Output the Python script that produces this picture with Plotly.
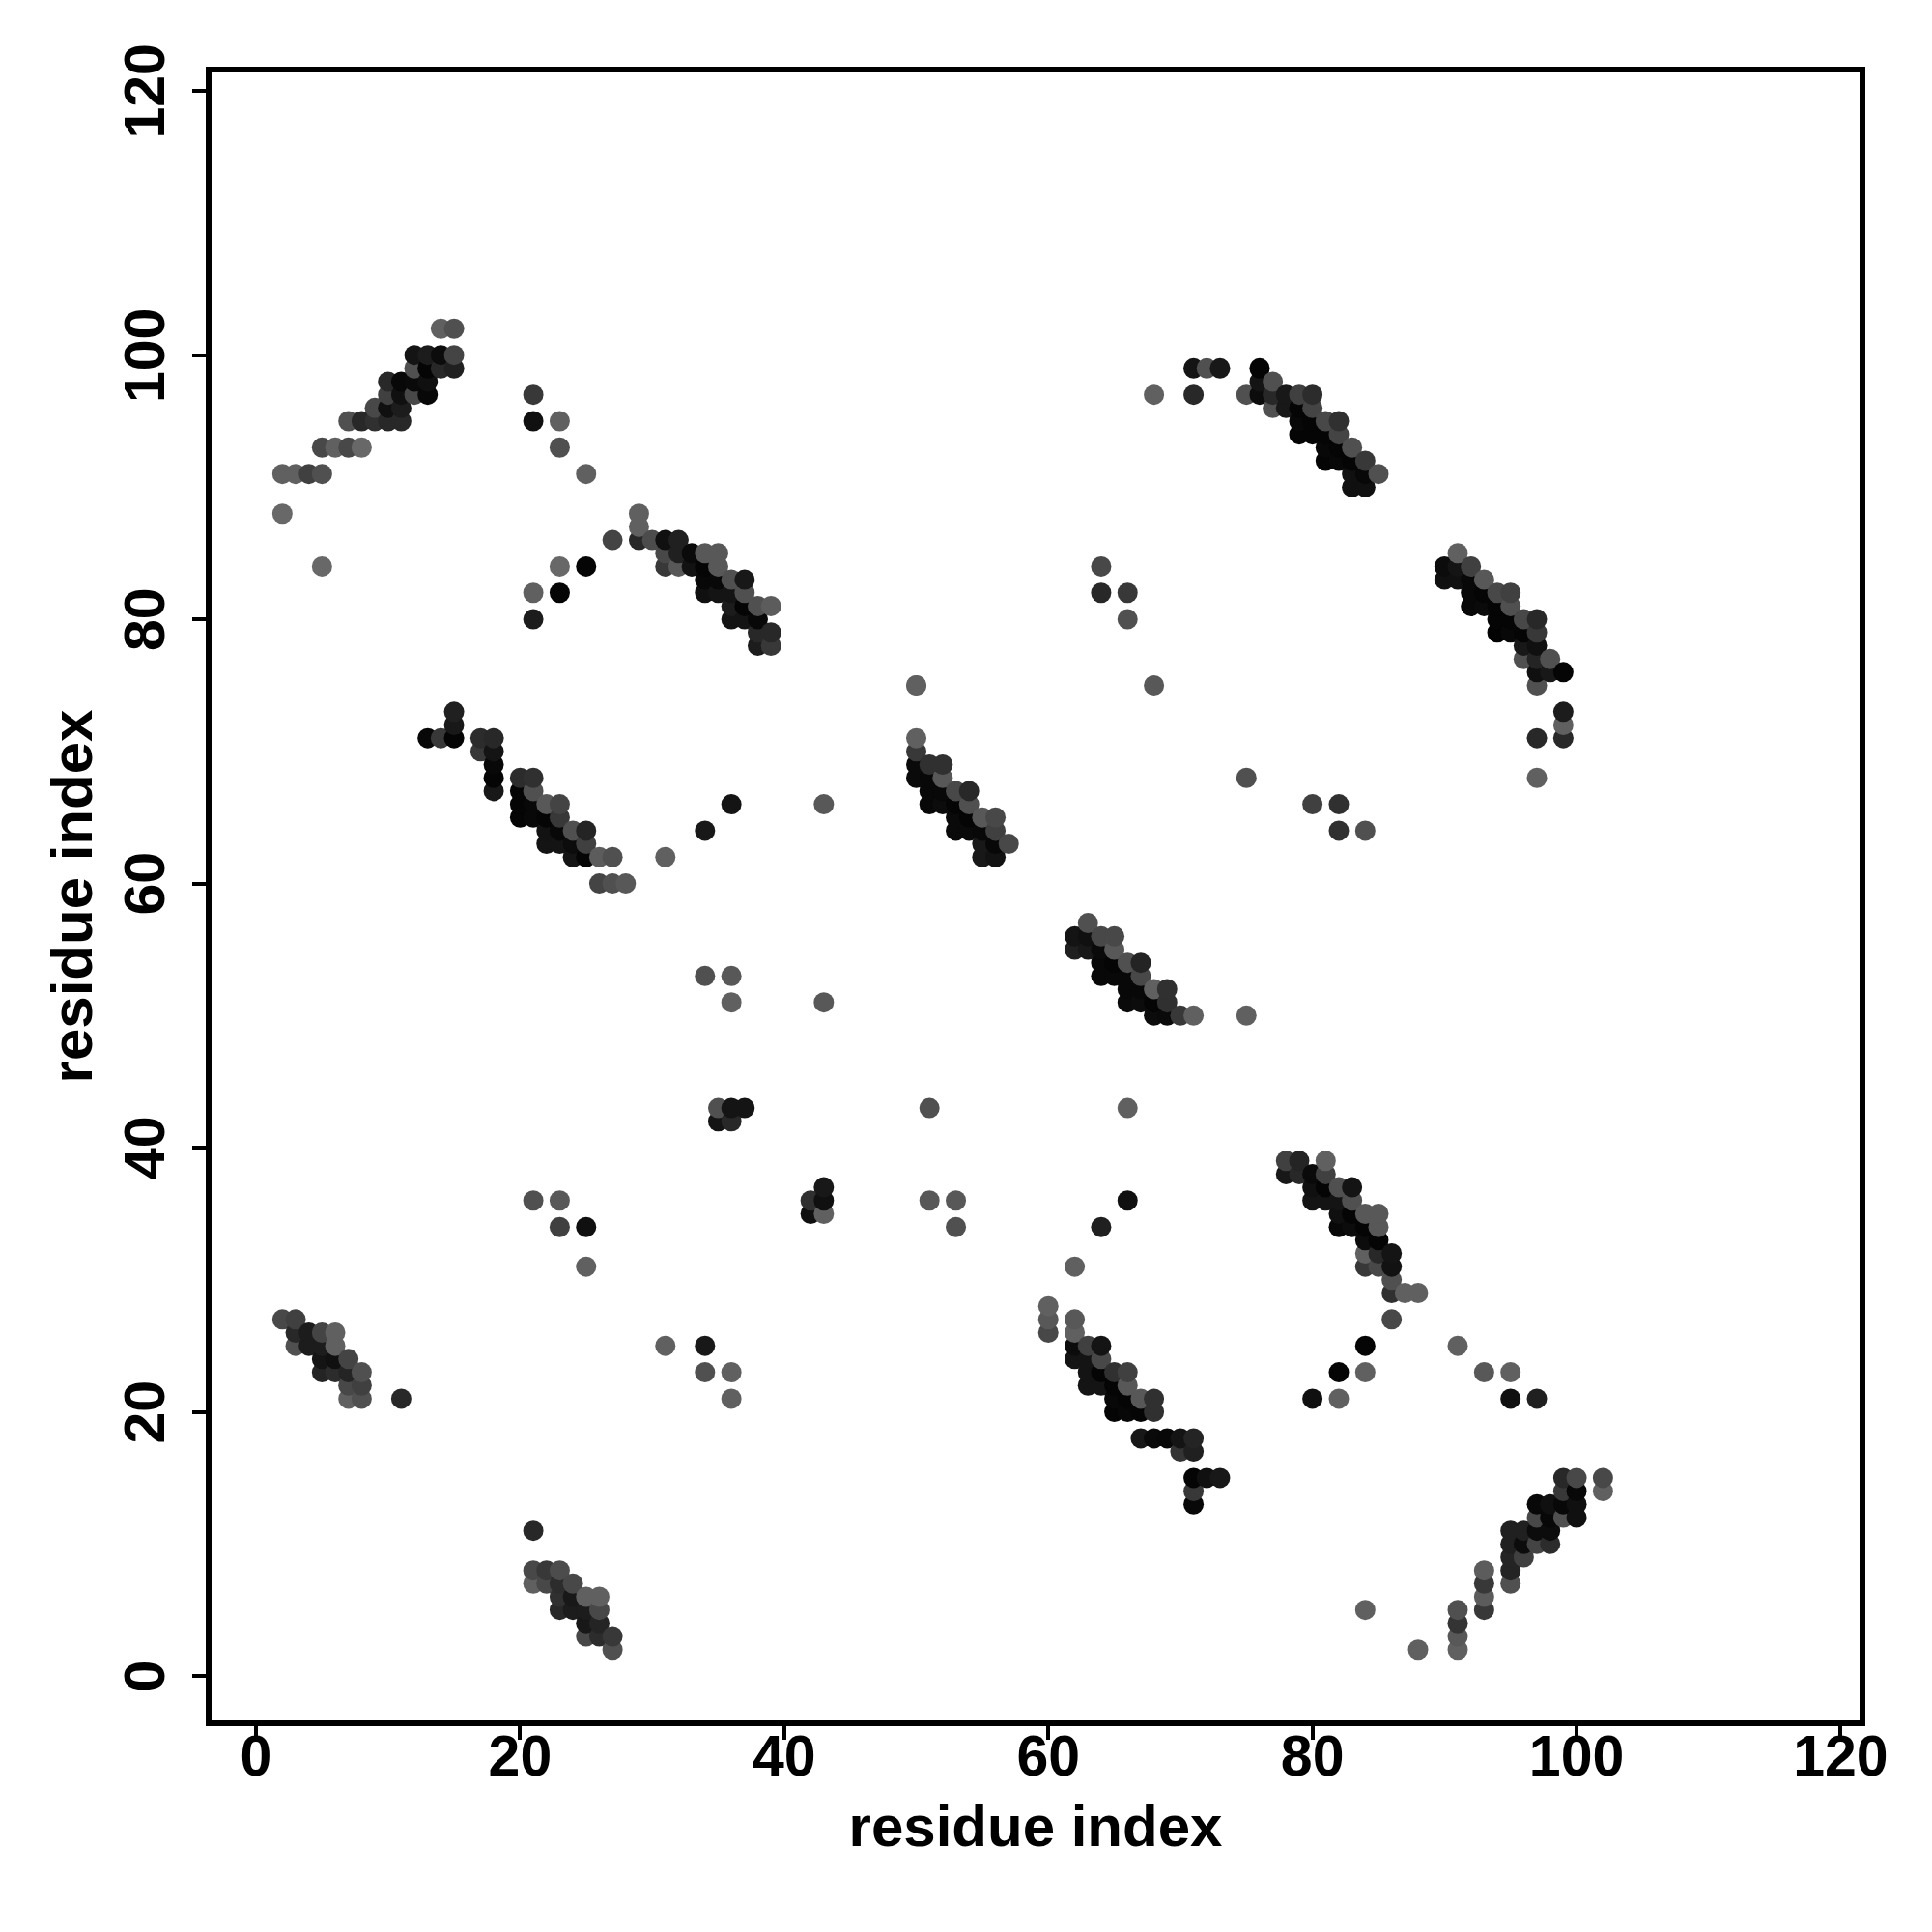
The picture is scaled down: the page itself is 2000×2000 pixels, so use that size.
import plotly.graph_objects as go

# residue i, residue j, and contact darkness shade (0 = black, 255 = white), listed row by row
residue_i = [
 14,15, 12,13,14,15, 12,13,14,15, 10,11,12,13, 10,11,12,13, 9,10,11, 7,8,9,10,11, 5,6,7,8, 2,3,4,5, 2, 5,
 21, 21,23, 23, 25, 27, 23,25, 21,23, 21,
 29, 29, 29,30,31,32, 31,32,33,34,35, 31,32,33,34,35, 34,35,36,37, 34,35,36,37, 36,37,38,39, 36,37,38, 38,39, 38,39,
 15, 15, 13,14,15,17,18, 17,18, 18, 18,20,21, 18,20,21, 20,21,22,23, 20,21,22,23, 22,23,24,25, 22,23,24,25, 24,25,26,27,31, 26,27,28,
 34, 36, 43, 34,36, 36,43, 35,36,37, 35,36,
 21,23, 23,25, 25, 42,43, 42,43, 43, 51,66, 51,53, 53, 64, 66, 62, 31, 34, 34,36, 36, 50, 64, 64,66, 66, 68, 75, 80,82, 82,84,
 50, 50, 50,51,52, 50,51,52, 51,52,53,54, 51,52,53,54, 53,54,55,56, 53,54,55,56, 55,56,57, 55,56, 50,
 63, 62,63,64,65, 62,63,64,65, 64,65,66,67, 64,65,66,67, 66,67,68,69, 66,67,68,69, 68,69,70,71,75,
 76, 76,77, 75,76,77,78,79,80, 77,78,79,80, 79,80,81,82, 79,80,81,82, 81,82,83, 81,82,83,84, 83,84,85, 83,84, 71,72,73, 68,71,
 91, 90,91,92, 90,91,92,93, 92,93,94,95, 92,93,94,95, 94,95,96,97, 94,95,96,97, 96,97, 96,97,98, 97,98,99, 97, 99, 99, 97,99, 97,
 78,79,81, 78,79,80,81, 80,81,82,83, 80,81,82,83, 82,83,84,85, 82,83,84,85, 84,85, 84,85,86, 84,85,86, 86, 86,87,88, 86, 84, 82,84, 80,82,91,93,95,95,97,
 60, 60,62, 60,62, 62,63,64, 62,63,64, 63,64,65,66, 63,64,65,66, 65,66,67,68, 65,66,67,68, 67,68,69,70,71, 70,71, 71,72,73, 71, 71,
 99,100,102, 99,100,102, 97,98,99,100, 97,98,99,100, 95,96,97,98, 95,96,97,98, 95,96, 93,95, 93,95, 93, 91,93, 91, 91, 88,91, 84,
 2,3, 3,4,5,6, 3,4,5,6, 5,6,7, 5,6,7,8, 7,8, 7,8,11,
 21, 21,22,23, 21,22,23,24, 23,24,25,26, 23,24,25,26, 25,26, 25,26,27, 27,
]
residue_j = [
 102,102, 100,100,100,100, 99,99,99,99, 98,98,98,98, 97,97,97,97, 96,96,96, 95,95,95,95,95, 93,93,93,93, 91,91,91,91, 88, 84,
 97, 95,95, 93, 91, 86, 84,84, 82,82, 80,
 88, 87, 86,86,86,86, 85,85,85,85,85, 84,84,84,84,84, 83,83,83,83, 82,82,82,82, 81,81,81,81, 80,80,80, 79,79, 78,78,
 73, 72, 71,71,71,71,71, 70,70, 69, 68,68,68, 67,67,67, 66,66,66,66, 65,65,65,65, 64,64,64,64, 63,63,63,63, 62,62,62,62,62, 60,60,60,
 64, 66, 66, 53,53, 51,51, 43,43,43, 42,42,
 36,36, 34,34, 31, 36,37, 35,36, 35, 43,43, 36,36, 34, 34, 36, 31, 25, 25, 23,23, 21, 75, 84, 82,82, 80, 75, 68, 66,66, 64,64,
 71, 70, 69,69,69, 68,68,68, 67,67,67,67, 66,66,66,66, 65,65,65,65, 64,64,64,64, 63,63,63, 62,62, 75,
 57, 56,56,56,56, 55,55,55,55, 54,54,54,54, 53,53,53,53, 52,52,52,52, 51,51,51,51, 50,50,50,50,50,
 99, 98,98, 97,97,97,97,97,97, 96,96,96,96, 95,95,95,95, 94,94,94,94, 93,93,93, 92,92,92,92, 91,91,91, 90,90, 99,99,99, 97,97,
 85, 84,84,84, 83,83,83,83, 82,82,82,82, 81,81,81,81, 80,80,80,80, 79,79,79,79, 78,78, 77,77,77, 76,76,76, 75, 73, 72, 71,71, 68,
 39,39,39, 38,38,38,38, 37,37,37,37, 36,36,36,36, 35,35,35,35, 34,34,34,34, 33,33, 32,32,32, 31,31,31, 30, 29,29,29, 27, 25, 23,23, 21,21,25,23,23,21,21,
 28, 27,27, 26,26, 25,25,25, 24,24,24, 23,23,23,23, 22,22,22,22, 21,21,21,21, 20,20,20,20, 18,18,18,18,18, 17,17, 15,15,15, 14, 13,
 15,15,15, 14,14,14, 13,13,13,13, 12,12,12,12, 11,11,11,11, 10,10,10,10, 9,9, 8,8, 7,7, 6, 5,5, 4, 3, 2,2, 5,
 27,27, 26,26,26,26, 25,25,25,25, 24,24,24, 23,23,23,23, 22,22, 21,21,21,
 11, 8,8,8, 7,7,7,7, 6,6,6,6, 5,5,5,5, 4,4, 3,3,3, 2,
]
shade = [
 0x60,0x50, 0x14,0x1c,0x0c,0x44, 0x50,0x05,0x28,0x20, 0x28,0x08,0x0a,0x10, 0x40,0x10,0x48,0x08, 0x48,0x10,0x1c, 0x50,0x28,0x30,0x28,0x28, 0x48,0x60,0x48,0x68, 0x60,0x60,0x40,0x50, 0x68, 0x68,
 0x38, 0x10,0x60, 0x50, 0x60, 0x44, 0x68,0x05, 0x60,0x05, 0x1c,
 0x60, 0x60, 0x28,0x4c,0x10,0x20, 0x48,0x20,0x0a,0x58,0x58, 0x38,0x58,0x12,0x05,0x58, 0x08,0x08,0x50,0x18, 0x10,0x14,0x14,0x50, 0x1c,0x05,0x50,0x5c, 0x14,0x14,0x08, 0x28,0x28, 0x1c,0x38,
 0x20, 0x18, 0x08,0x38,0x05,0x2c,0x28, 0x38,0x14, 0x08, 0x05,0x2c,0x30, 0x18,0x05,0x50, 0x05,0x08,0x58,0x44, 0x05,0x08,0x05,0x38, 0x12,0x08,0x50,0x24, 0x14,0x14,0x0c,0x40, 0x14,0x05,0x5c,0x50,0x60, 0x44,0x50,0x58,
 0x18, 0x14, 0x58, 0x50,0x58, 0x60,0x58, 0x50,0x14,0x14, 0x14,0x28,
 0x50,0x58, 0x40,0x10, 0x60, 0x30,0x18, 0x10,0x10, 0x60, 0x50,0x60, 0x58,0x58, 0x50, 0x20, 0x10, 0x60, 0x60, 0x18, 0x50,0x60, 0x60, 0x60, 0x48, 0x28,0x38, 0x50, 0x58, 0x50, 0x40,0x30, 0x30,0x50,
 0x60, 0x38, 0x0a,0x30,0x30, 0x0a,0x08,0x58, 0x08,0x08,0x48,0x28, 0x08,0x0c,0x05,0x50, 0x0a,0x05,0x58,0x48, 0x0a,0x0a,0x08,0x40, 0x18,0x08,0x48, 0x18,0x12, 0x60,
 0x50, 0x14,0x10,0x48,0x48, 0x20,0x18,0x0a,0x58, 0x08,0x05,0x50,0x24, 0x08,0x08,0x08,0x48, 0x08,0x08,0x60,0x30, 0x0a,0x0c,0x05,0x30, 0x0c,0x0a,0x38,0x60,0x60,
 0x05, 0x14,0x50, 0x50,0x0c,0x28,0x18,0x40,0x2c, 0x50,0x18,0x05,0x44, 0x08,0x05,0x48,0x30, 0x05,0x05,0x05,0x44, 0x08,0x05,0x50, 0x05,0x08,0x05,0x38, 0x10,0x08,0x50, 0x10,0x10, 0x14,0x50,0x18, 0x60,0x28,
 0x60, 0x0c,0x14,0x40, 0x10,0x10,0x08,0x58, 0x08,0x05,0x48,0x40, 0x08,0x0a,0x05,0x50, 0x05,0x05,0x48,0x28, 0x03,0x08,0x05,0x38, 0x18,0x10, 0x50,0x24,0x50, 0x10,0x18,0x05, 0x50, 0x1c, 0x60, 0x28,0x28, 0x60,
 0x40,0x24,0x60, 0x18,0x28,0x0a,0x40, 0x10,0x05,0x50,0x14, 0x14,0x14,0x14,0x50, 0x10,0x05,0x58,0x58, 0x08,0x0c,0x05,0x58, 0x0c,0x05, 0x60,0x28,0x14, 0x38,0x48,0x12, 0x50, 0x30,0x60,0x60, 0x48, 0x05, 0x05,0x60, 0x10,0x60,0x60,0x58,0x60,0x10,0x20,
 0x60, 0x58,0x58, 0x48,0x60, 0x0c,0x40,0x14, 0x14,0x14,0x48, 0x14,0x05,0x30,0x40, 0x14,0x14,0x05,0x58, 0x08,0x05,0x58,0x30, 0x05,0x08,0x05,0x30, 0x18,0x0a,0x08,0x14,0x24, 0x34,0x20, 0x05,0x10,0x18, 0x38, 0x08,
 0x28,0x48,0x48, 0x38,0x08,0x60, 0x08,0x10,0x08,0x10, 0x48,0x08,0x50,0x10, 0x20,0x20,0x0c,0x0c, 0x20,0x0c,0x44,0x2c, 0x24,0x40, 0x5c,0x24, 0x38,0x50, 0x5c, 0x50,0x38, 0x34, 0x58, 0x60,0x60, 0x60,
 0x48,0x40, 0x28,0x1c,0x44,0x60, 0x50,0x1c,0x1c,0x60, 0x14,0x10,0x44, 0x24,0x2c,0x24,0x50, 0x48,0x40, 0x60,0x50,0x28,
 0x28, 0x48,0x38,0x4c, 0x60,0x48,0x2c,0x48, 0x30,0x18,0x60,0x60, 0x28,0x1c,0x1c,0x48, 0x18,0x24, 0x48,0x2c,0x38, 0x50,
]
tick_values = [0, 20, 40, 60, 80, 100, 120]
axis_label = "residue index"

assert len(residue_i) == len(residue_j) == len(shade)

order = sorted(range(len(shade)), key=lambda k: (residue_i[k], residue_j[k]))

fig = go.Figure(go.Scatter(
    x=[residue_i[k] for k in order],
    y=[residue_j[k] for k in order],
    mode="markers",
    marker=dict(
        size=21,
        color=[shade[k] for k in order],
        colorscale=[[0, "rgb(0,0,0)"], [1, "rgb(255,255,255)"]],
        cmin=0, cmax=255, showscale=False, line=dict(width=0),
    ),
    hoverinfo="x+y",
))

tick_font = dict(family="Liberation Sans", size=59, color="black", weight="bold")
title_font = dict(family="Liberation Sans", size=60, color="black", weight="bold")
axis_common = dict(
    tickmode="array", tickvals=tick_values, ticktext=[str(v) for v in tick_values],
    showgrid=False, zeroline=False, showline=True, linecolor="black", linewidth=6,
    mirror=True, ticks="outside", ticklen=14, tickwidth=4, tickcolor="black",
    tickfont=tick_font, automargin=False,
)
fig.update_layout(
    width=2000, height=2000, autosize=False,
    margin=dict(l=211, r=83, t=67, b=227, pad=0),
    paper_bgcolor="white", plot_bgcolor="white", showlegend=False,
    xaxis=dict(axis_common, range=[-3.365, 121.43], ticklabelstandoff=-34,
               title=dict(text=axis_label, font=title_font, standoff=21)),
    yaxis=dict(axis_common, range=[-3.36, 121.4], tickangle=-90, ticklabelstandoff=5, ticklabelshift=9,
               title=dict(text=axis_label, font=title_font, standoff=4)),
)
fig.write_html("out.html")
